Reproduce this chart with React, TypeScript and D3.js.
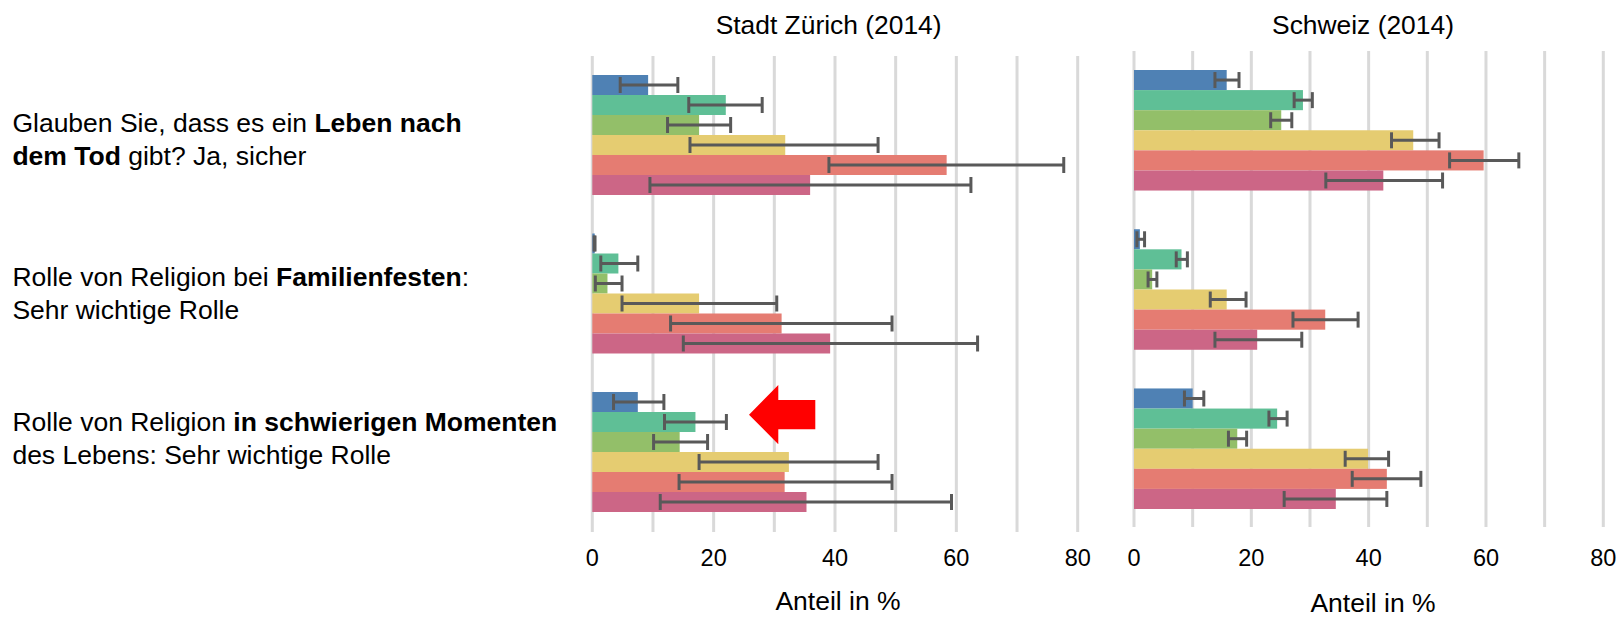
import React from "react";
import * as d3 from "d3";

// ---- Data ----
const questions = ["Leben nach dem Tod", "Familienfesten", "schwierigen Momenten"];
const seriesNames = ["S1", "S2", "S3", "S4", "S5", "S6"];
const panelTitles = ["Stadt Zürich (2014)", "Schweiz (2014)"];
const axisTitle = "Anteil in %";
const tickValues = [0, 20, 40, 60, 80];
const gridValues = [0, 10, 20, 30, 40, 50, 60, 70, 80];

const zurichValues = [
  [9.2, 22.0, 17.6, 31.8, 58.4, 35.9],
  [0.4, 4.3, 2.5, 17.6, 31.2, 39.2],
  [7.5, 17.0, 14.4, 32.4, 31.7, 35.3],
];
const zurichLow = [
  [4.6, 15.9, 12.4, 16.1, 39.0, 9.5],
  [0.3, 1.4, 0.5, 4.9, 12.9, 15.0],
  [3.5, 11.9, 10.1, 17.6, 14.3, 11.2],
];
const zurichHigh = [
  [14.1, 28.0, 22.8, 47.1, 77.7, 62.4],
  [0.45, 7.5, 4.9, 30.4, 49.4, 63.5],
  [11.8, 22.1, 19.0, 47.1, 49.4, 59.2],
];
const schweizValues = [
  [15.8, 28.8, 25.1, 47.6, 59.6, 42.5],
  [1.0, 8.1, 3.1, 15.8, 32.6, 21.0],
  [10.0, 24.4, 17.6, 39.9, 43.1, 34.4],
];
const schweizLow = [
  [13.8, 27.3, 23.3, 43.9, 53.8, 32.7],
  [0.5, 7.2, 2.4, 13.0, 27.1, 13.8],
  [8.6, 23.0, 16.1, 36.0, 37.2, 25.6],
];
const schweizHigh = [
  [17.9, 30.4, 26.9, 52.0, 65.6, 52.6],
  [1.8, 9.1, 3.9, 19.1, 38.2, 28.6],
  [11.9, 26.1, 19.2, 43.4, 48.9, 43.1],
];

// question label lines: [text, bold]
const labelLines = [
  [
    [["Glauben Sie, dass es ein ", false], ["Leben nach", true]],
    [["dem Tod", true], [" gibt? Ja, sicher", false]],
  ],
  [
    [["Rolle von Religion bei ", false], ["Familienfesten", true], [":", false]],
    [["Sehr wichtige Rolle", false]],
  ],
  [
    [["Rolle von Religion ", false], ["in schwierigen Momenten", true]],
    [["des Lebens: Sehr wichtige Rolle", false]],
  ],
];

// ---- Styles ----
const colors = ["#4f81b4", "#5fbf96", "#93bf69", "#e5cc71", "#e57c72", "#cc6686"];
const FONT = "'Liberation Sans', Arial, sans-serif";

const panels = [
  {
    title: panelTitles[0],
    values: zurichValues, low: zurichLow, high: zurichHigh,
    x0: 592.3, x1: 1077.7, yTop: 75, yBot: 512, gridTop: 56, gridBot: 532,
    titleX: 828.6, titleY: 34, tickY: 566, axisTitleY: 610, axisTitleX: 838,
  },
  {
    title: panelTitles[1],
    values: schweizValues, low: schweizLow, high: schweizHigh,
    x0: 1134, x1: 1603.3, yTop: 70, yBot: 509, gridTop: 51, gridBot: 527,
    titleX: 1363, titleY: 34, tickY: 566, axisTitleY: 612, axisTitleX: 1373,
  },
];

function Panel({ p }: { p: any }) {
  const x = d3.scaleLinear().domain([0, 80]).range([p.x0, p.x1]);
  const yGroup = d3
    .scaleBand<string>()
    .domain(questions)
    .range([p.yTop, p.yBot])
    .paddingInner(0.243)
    .paddingOuter(0);
  const yInner = d3
    .scaleBand<string>()
    .domain(seriesNames)
    .range([0, yGroup.bandwidth()])
    .padding(0);
  const capH = 16;
  return (
    <g>
      <text x={p.titleX} y={p.titleY} textAnchor="middle" fontSize={26.4} fontFamily={FONT} fill="#000">
        {p.title}
      </text>
      {gridValues.map((g) => (
        <line key={g} x1={x(g)} x2={x(g)} y1={p.gridTop} y2={p.gridBot} stroke="#d9d9d9" strokeWidth={3} />
      ))}
      {questions.map((q, qi) => (
        <g key={q} transform={`translate(0,${yGroup(q)})`}>
          {seriesNames.map((s, si) => (
            <rect
              key={s}
              x={x(0)}
              y={yInner(s)}
              width={Math.max(0, x(p.values[qi][si]) - x(0))}
              height={yInner.bandwidth()}
              fill={colors[si]}
            />
          ))}
          {seriesNames.map((s, si) => {
            const cy = (yInner(s) as number) + yInner.bandwidth() / 2;
            const lo = x(p.low[qi][si]);
            const hi = x(p.high[qi][si]);
            return (
              <g key={s} stroke="#595959" strokeWidth={3}>
                <line x1={lo} x2={hi} y1={cy} y2={cy} />
                <line x1={lo} x2={lo} y1={cy - capH / 2} y2={cy + capH / 2} />
                <line x1={hi} x2={hi} y1={cy - capH / 2} y2={cy + capH / 2} />
              </g>
            );
          })}
        </g>
      ))}
      {tickValues.map((t) => (
        <text key={t} x={x(t)} y={p.tickY} textAnchor="middle" fontSize={23.5} fontFamily={FONT} fill="#000">
          {t}
        </text>
      ))}
      <text x={p.axisTitleX} y={p.axisTitleY} textAnchor="middle" fontSize={26.5} fontFamily={FONT} fill="#000">
        {axisTitle}
      </text>
    </g>
  );
}

export default function App() {
  const labelBase = [132, 286, 430.5];
  const lineH = 33;
  return (
    <svg
      width={1619}
      height={617}
      style={{ position: "absolute", left: 0, top: 0, background: "#fff" }}
    >
      <rect x={0} y={0} width={1619} height={617} fill="#fff" />
      {labelLines.map((lines, gi) => (
        <g key={gi}>
          {lines.map((segs, li) => (
            <text key={li} x={12.4} y={labelBase[gi] + li * lineH} fontSize={26.5} fontFamily={FONT} fill="#000">
              {segs.map((seg, si) => (
                <tspan key={si} fontWeight={seg[1] ? "bold" : "normal"}>
                  {seg[0] as string}
                </tspan>
              ))}
            </text>
          ))}
        </g>
      ))}
      {panels.map((p, i) => (
        <Panel key={i} p={p} />
      ))}
      <path
        d="M749,414.7 L778.3,385 L778.3,400 L815.3,400 L815.3,429.3 L778.3,429.3 L778.3,444.3 Z"
        fill="#ff0000"
      />
    </svg>
  );
}
